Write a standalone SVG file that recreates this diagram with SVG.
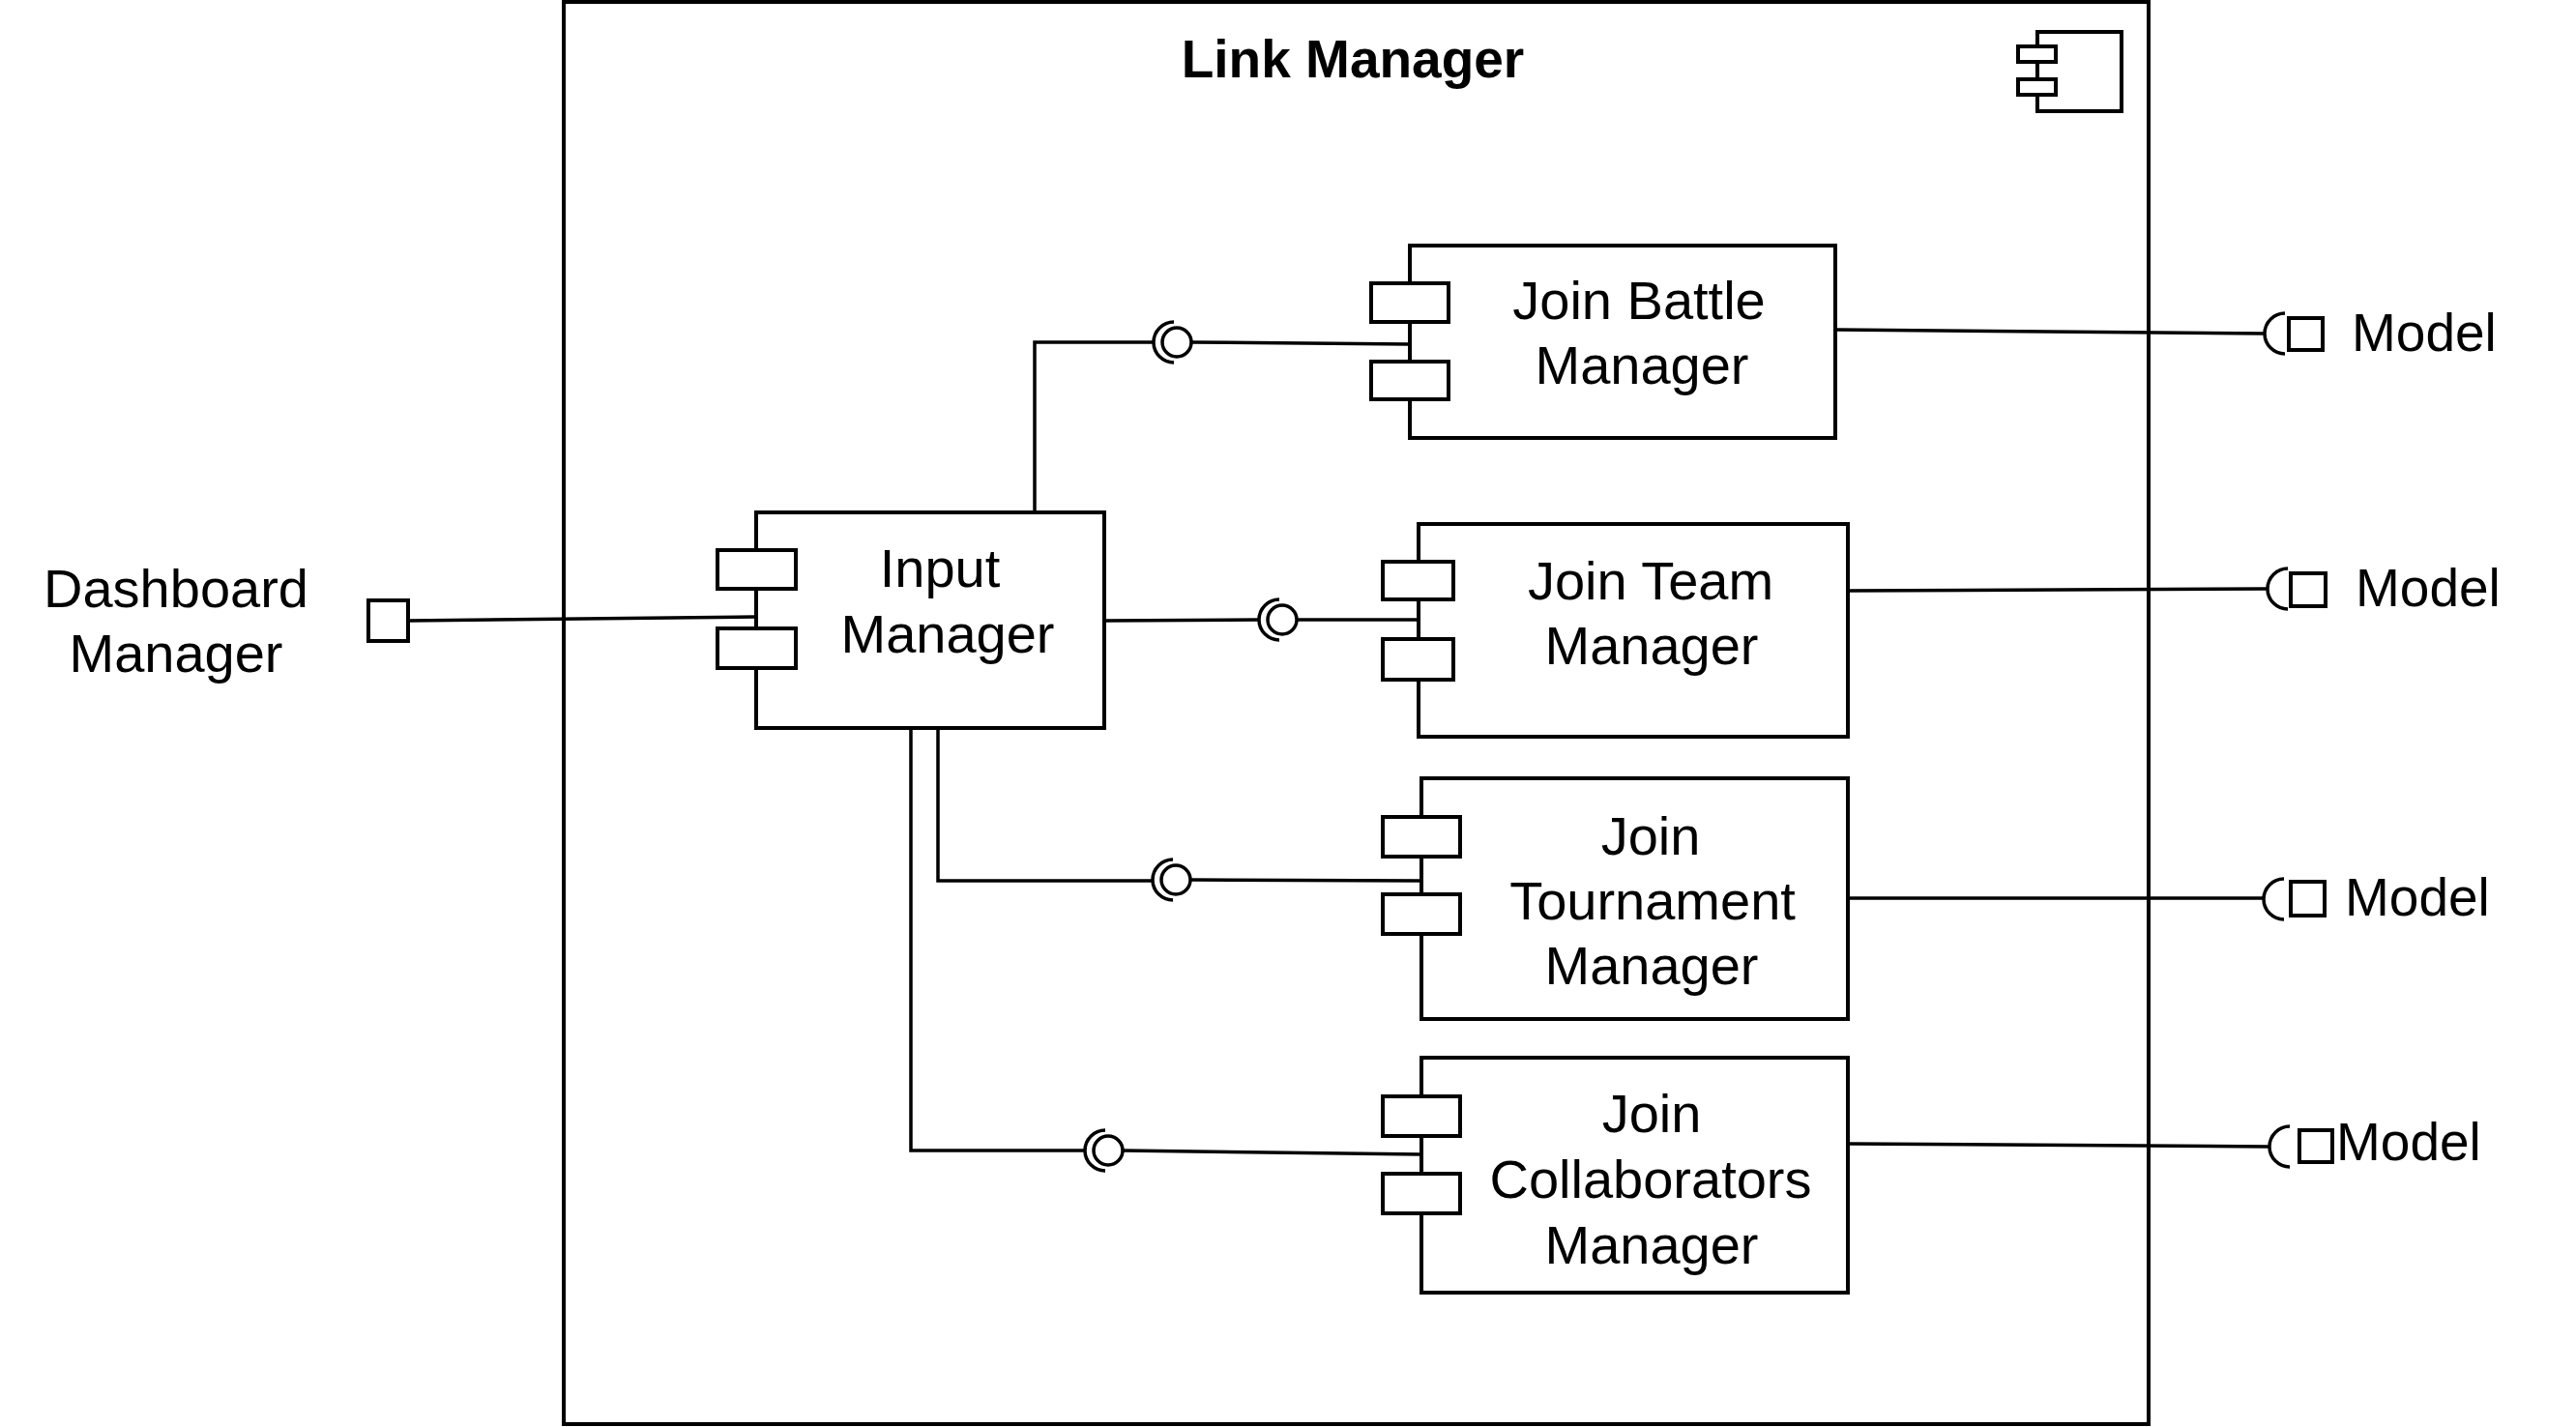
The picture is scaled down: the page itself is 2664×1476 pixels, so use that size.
<svg xmlns="http://www.w3.org/2000/svg" width="2664" height="1476" viewBox="0 0 2664 1476">
<style>
.frame{fill:#fff;stroke:#000;stroke-width:4}
.box{fill:#fff;stroke:#000;stroke-width:4}
.tab{fill:#fff;stroke:#000;stroke-width:4}
.ln{fill:none;stroke:#000;stroke-width:3.5}
.ball{fill:#fff;stroke:#000;stroke-width:3.5}
.t{font-family:"Liberation Sans",Arial,sans-serif;font-size:56px;fill:#000;text-anchor:middle}
.m{font-family:"Liberation Sans",Arial,sans-serif;font-size:55px;fill:#000}
.title{font-family:"Liberation Sans",Arial,sans-serif;font-size:55px;font-weight:bold;fill:#000;text-anchor:middle}
</style>
<rect width="2664" height="1476" fill="#fff"/>
<g id="link-manager">
<rect class="frame" x="583" y="2" width="1639" height="1471"/>
<text class="title" x="1399" y="80">Link Manager</text>
<rect class="box" x="2107" y="33" width="87" height="82"/>
<rect class="tab" x="2087" y="48" width="39" height="16"/>
<rect class="tab" x="2087" y="82" width="39" height="16"/>
</g>
<g id="connectors">
<line class="ln" x1="422" y1="642" x2="782" y2="638"/>
<polyline class="ln" points="1070,530 1070,354 1194,354"/>
<line class="ln" x1="1232" y1="354" x2="1458" y2="356"/>
<line class="ln" x1="1142" y1="642" x2="1303" y2="641"/>
<line class="ln" x1="1341" y1="641" x2="1467" y2="641"/>
<polyline class="ln" points="970,753 970,911 1193,911"/>
<line class="ln" x1="1231" y1="910" x2="1470" y2="911"/>
<polyline class="ln" points="942,753 942,1190 1123,1190"/>
<line class="ln" x1="1161" y1="1190" x2="1470" y2="1194"/>
<line class="ln" x1="1898" y1="341" x2="2342" y2="345"/>
<line class="ln" x1="1911" y1="611" x2="2345" y2="609"/>
<line class="ln" x1="1911" y1="929" x2="2341" y2="929"/>
<line class="ln" x1="1911" y1="1183" x2="2347" y2="1186"/>
</g>
<g id="interfaces">
<path class="ln" d="M1214,333 A21,21 0 0 0 1214,375"/>
<circle class="ball" cx="1217" cy="354" r="15"/>
<path class="ln" d="M1323,620 A21,21 0 0 0 1323,662"/>
<circle class="ball" cx="1326" cy="641" r="15"/>
<path class="ln" d="M1213,889 A21,21 0 0 0 1213,931"/>
<circle class="ball" cx="1216" cy="910" r="15"/>
<path class="ln" d="M1143,1169 A21,21 0 0 0 1143,1211"/>
<circle class="ball" cx="1146" cy="1190" r="15"/>
</g>
<g id="dashboard-manager">
<text class="t" x="182" y="628">Dashboard</text>
<text class="t" x="182" y="695">Manager</text>
<rect class="box" x="381" y="621" width="41" height="42"/>
</g>
<g id="input-manager">
<rect class="box" x="782" y="530" width="360" height="223"/>
<rect class="tab" x="742" y="569" width="81" height="40"/>
<rect class="tab" x="742" y="650" width="81" height="41"/>
<text class="t" x="972" y="607">Input</text>
<text class="t" x="980" y="675">Manager</text>
</g>
<g id="join-battle-manager">
<rect class="box" x="1458" y="254" width="440" height="199"/>
<rect class="tab" x="1418" y="293" width="80" height="40"/>
<rect class="tab" x="1418" y="374" width="80" height="39"/>
<text class="t" x="1695" y="330">Join Battle</text>
<text class="t" x="1698" y="397">Manager</text>
</g>
<g id="join-team-manager">
<rect class="box" x="1467" y="542" width="444" height="220"/>
<rect class="tab" x="1430" y="581" width="73" height="39"/>
<rect class="tab" x="1430" y="661" width="73" height="42"/>
<text class="t" x="1707" y="620">Join Team</text>
<text class="t" x="1708" y="687">Manager</text>
</g>
<g id="join-tournament-manager">
<rect class="box" x="1470" y="805" width="441" height="249"/>
<rect class="tab" x="1430" y="845" width="80" height="41"/>
<rect class="tab" x="1430" y="925" width="80" height="41"/>
<text class="t" x="1707" y="884">Join</text>
<text class="t" x="1709" y="951">Tournament</text>
<text class="t" x="1708" y="1018">Manager</text>
</g>
<g id="join-collaborators-manager">
<rect class="box" x="1470" y="1094" width="441" height="243"/>
<rect class="tab" x="1430" y="1134" width="80" height="41"/>
<rect class="tab" x="1430" y="1214" width="80" height="41"/>
<text class="t" x="1708" y="1171">Join</text>
<text class="t" x="1707" y="1239">Collaborators</text>
<text class="t" x="1708" y="1307">Manager</text>
</g>
<g id="model-battle">
<path class="ln" d="M2363,324 A21,21 0 0 0 2363,366"/>
<rect class="box" x="2367" y="329" width="35" height="33"/>
<text class="m" x="2432" y="363">Model</text>
</g>
<g id="model-team">
<path class="ln" d="M2366,588 A21,21 0 0 0 2366,630"/>
<rect class="box" x="2369" y="593" width="36" height="34"/>
<text class="m" x="2436" y="627">Model</text>
</g>
<g id="model-tournament">
<path class="ln" d="M2362,909 A21,21 0 0 0 2362,951"/>
<rect class="box" x="2369" y="912" width="35" height="35"/>
<text class="m" x="2425" y="947">Model</text>
</g>
<g id="model-collaborators">
<path class="ln" d="M2368,1165 A21,21 0 0 0 2368,1207"/>
<rect class="box" x="2378" y="1169" width="34" height="33"/>
<text class="m" x="2416" y="1200">Model</text>
</g>
</svg>
